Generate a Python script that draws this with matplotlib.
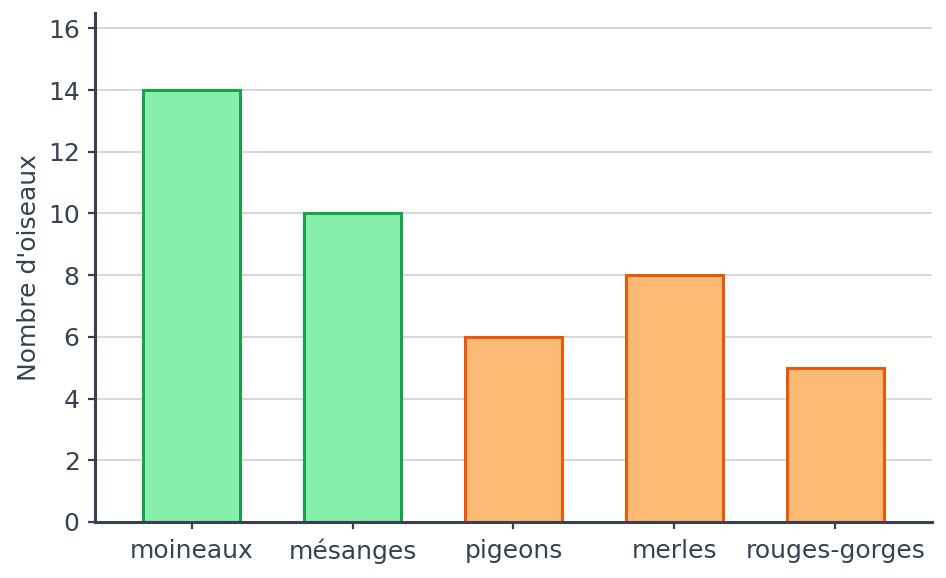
import matplotlib
matplotlib.use("Agg")
import matplotlib.pyplot as plt

# === Data ===
categories = ["moineaux", "mésanges", "pigeons", "merles", "rouges-gorges"]
counts = [14, 10, 6, 8, 5]
fill_colors = ["#86efac", "#86efac", "#fdba74", "#fdba74", "#fdba74"]
edge_colors = ["#16a34a", "#16a34a", "#ea580c", "#ea580c", "#ea580c"]
y_ticks = [0, 2, 4, 6, 8, 10, 12, 14, 16]

axis_color = "#374151"
grid_color = "#d1d5db"

fig = plt.figure(figsize=(9.46, 5.78), dpi=100)
ax = fig.add_axes([0.1004, 0.0970, 0.8848, 0.8805])

ax.bar(range(len(categories)), counts, width=0.6,
       color=fill_colors, edgecolor=edge_colors, linewidth=2.2, zorder=3)

ax.set_xlim(-0.6, 4.6)
ax.set_ylim(0, 16.5)
ax.set_yticks(y_ticks)
ax.set_xticks(range(len(categories)))
ax.set_xticklabels(categories)

ax.yaxis.grid(True, color=grid_color, linewidth=1.3, zorder=0)
ax.set_axisbelow(True)

for side in ["top", "right"]:
    ax.spines[side].set_visible(False)
for side in ["left", "bottom"]:
    ax.spines[side].set_color(axis_color)
    ax.spines[side].set_linewidth(2.2)
    ax.spines[side].set_zorder(4)

ax.tick_params(axis="both", colors=axis_color, labelsize=18,
               length=5, width=1.6, labelcolor=axis_color)
ax.tick_params(axis="x", pad=7)
ax.tick_params(axis="y", pad=6)

ax.set_ylabel("Nombre d'oiseaux", fontsize=18, color=axis_color, labelpad=5)

fig.savefig("out.png", dpi=100)
